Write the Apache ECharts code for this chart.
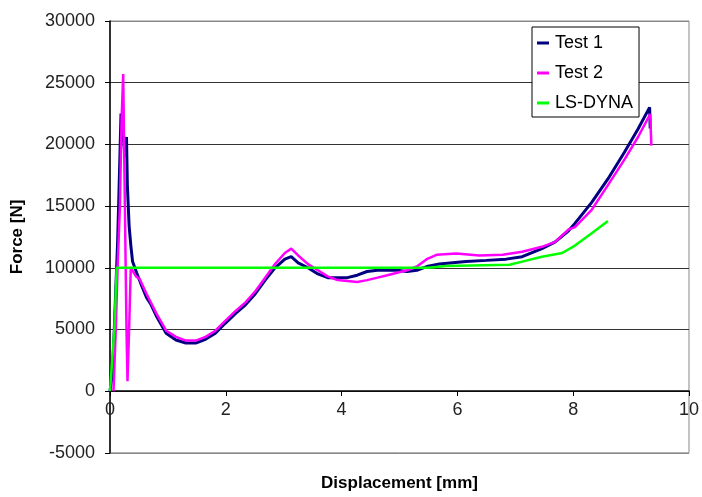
<!DOCTYPE html>
<html>
<head>
<meta charset="utf-8">
<script src="https://cdn.jsdelivr.net/npm/echarts@6/dist/echarts.min.js"></script>
<style>
  html, body { margin: 0; padding: 0; background: #fff; }
  #chart { width: 702px; height: 497px; }
</style>
</head>
<body>
<div id="chart"></div>
<script>
// displacement [mm], force [N]
var test1 = [
    [0, 0], [0.045, 1600], [0.074, 5000], [0.102, 8500], [0.131, 12000], [0.16, 17000],
    [0.19, 22500], [0.22, 21000], [0.26, 19000], [0.285, 20600], [0.30, 16700], [0.33, 13400],
    [0.36, 11800], [0.39, 10500], [0.46, 9600], [0.55, 8500], [0.63, 7600], [0.71, 7000],
    [0.8, 6100], [0.97, 4700], [1.14, 4150], [1.31, 3900], [1.48, 3900], [1.65, 4200],
    [1.82, 4700], [1.99, 5500], [2.17, 6300], [2.34, 7000], [2.51, 7900], [2.68, 9000],
    [2.85, 10000], [3.02, 10700], [3.13, 10900], [3.25, 10400], [3.42, 10000], [3.59, 9500],
    [3.76, 9200], [4.1, 9200], [4.27, 9400], [4.44, 9700], [4.62, 9800], [4.96, 9800],
    [5.13, 9700], [5.3, 9800], [5.47, 10100], [5.69, 10300], [6.15, 10500], [6.5, 10600],
    [6.84, 10700], [7.12, 10900], [7.46, 11550], [7.69, 12100], [7.92, 13000], [8.03, 13600],
    [8.32, 15300], [8.6, 17200], [8.89, 19400], [9.12, 21250], [9.32, 23000], [9.33, 21300]
];
var test2 = [
    [0.06, 0], [0.1, 5000], [0.131, 10000], [0.171, 15000], [0.2, 22000], [0.228, 25700],
    [0.257, 15000], [0.285, 5000], [0.302, 800], [0.33, 5000], [0.359, 10000], [0.387, 10000],
    [0.45, 9300], [0.51, 9100], [0.63, 7900], [0.8, 6300], [0.97, 4900], [1.14, 4400],
    [1.31, 4100], [1.48, 4100], [1.65, 4400], [1.82, 4900], [1.99, 5700], [2.17, 6500],
    [2.34, 7200], [2.51, 8100], [2.68, 9200], [2.85, 10300], [3.02, 11200], [3.13, 11550],
    [3.25, 11000], [3.42, 10300], [3.59, 9800], [3.76, 9300], [3.93, 9000], [4.27, 8850],
    [4.44, 9000], [4.62, 9200], [4.79, 9400], [4.96, 9600], [5.13, 9800], [5.3, 10100],
    [5.47, 10700], [5.64, 11050], [5.98, 11150], [6.38, 11000], [6.78, 11050], [7.12, 11300],
    [7.46, 11700], [7.69, 12100], [7.92, 13100], [8.03, 13300], [8.32, 14700], [8.6, 16700],
    [8.89, 18800], [9.12, 20600], [9.33, 22450], [9.35, 19900]
];
var lsDyna = [
    [0, 0], [0.075, 5000], [0.115, 10000], [5.5, 10000], [5.8, 10150], [6.9, 10250],
    [7.12, 10500], [7.46, 10900], [7.81, 11200], [8.03, 11800], [8.32, 12800], [8.6, 13800]
];
var seriesNames = ['Test 1', 'Test 2', 'LS-DYNA'];
var seriesColors = ['#000080', '#ff00ff', '#00ff00'];
var yMin = -5000, yMax = 30000;

var chart = echarts.init(document.getElementById('chart'));
var font = 'Liberation Sans, Arial, sans-serif';
var gridTop = 21, gridBottom = 43;
var plotH = 497 - gridTop - gridBottom;
// move the x axis up to the zero line
var zeroOffset = plotH * (0 - yMin) / (yMax - yMin);

option = {
    animation: false,
    backgroundColor: '#fff',
    color: seriesColors,
    grid: {
        left: 110,
        right: 7,
        top: gridTop,
        bottom: gridBottom,
        show: true,
        borderColor: '#888',
        borderWidth: 1
    },
    legend: {
        data: seriesNames,
        orient: 'vertical',
        left: 532,
        top: 27,
        padding: [7, 6, 5, 5],
        itemGap: 12,
        itemWidth: 12,
        itemHeight: 3,
        icon: 'rect',
        borderColor: '#000',
        borderWidth: 1,
        backgroundColor: '#fff',
        textStyle: { fontFamily: font, fontSize: 18, color: '#000', padding: [0, 0, 0, 1] }
    },
    xAxis: {
        type: 'value',
        min: 0,
        max: 10,
        interval: 2,
        offset: -zeroOffset,
        name: 'Displacement [mm]',
        nameLocation: 'middle',
        nameGap: 84,
        nameTextStyle: { fontFamily: font, fontSize: 17, fontWeight: 'bold', color: '#000' },
        axisLine: { onZero: false, lineStyle: { color: '#000', width: 1.5 } },
        axisTick: { show: true, length: 5, lineStyle: { color: '#000' } },
        axisLabel: { fontFamily: font, fontSize: 18, color: '#222', margin: 10 },
        splitLine: { show: false }
    },
    yAxis: {
        type: 'value',
        min: yMin,
        max: yMax,
        interval: 5000,
        name: 'Force [N]',
        nameLocation: 'middle',
        nameGap: 84,
        nameTextStyle: { fontFamily: font, fontSize: 17, fontWeight: 'bold', color: '#000' },
        axisLine: { show: true, onZero: false, lineStyle: { color: '#000', width: 1.5 } },
        axisTick: { show: true, length: 5, lineStyle: { color: '#000' } },
        axisLabel: {
            fontFamily: font, fontSize: 18, color: '#222', margin: 15,
            formatter: function (v) { return String(v); }
        },
        splitLine: {
            show: true,
            lineStyle: { color: ['#888', '#333', '#333', '#333', '#333', '#333', '#333', '#888'], width: 1.2 }
        }
    },
    series: [
        {
            name: seriesNames[0],
            type: 'line',
            data: test1,
            showSymbol: false,
            lineStyle: { width: 3, color: seriesColors[0] }
        },
        {
            name: seriesNames[1],
            type: 'line',
            data: test2,
            showSymbol: false,
            lineStyle: { width: 2.5, color: seriesColors[1] }
        },
        {
            name: seriesNames[2],
            type: 'line',
            data: lsDyna,
            showSymbol: false,
            lineStyle: { width: 2.5, color: seriesColors[2] }
        }
    ]
};
chart.setOption(option);
</script>
</body>
</html>
